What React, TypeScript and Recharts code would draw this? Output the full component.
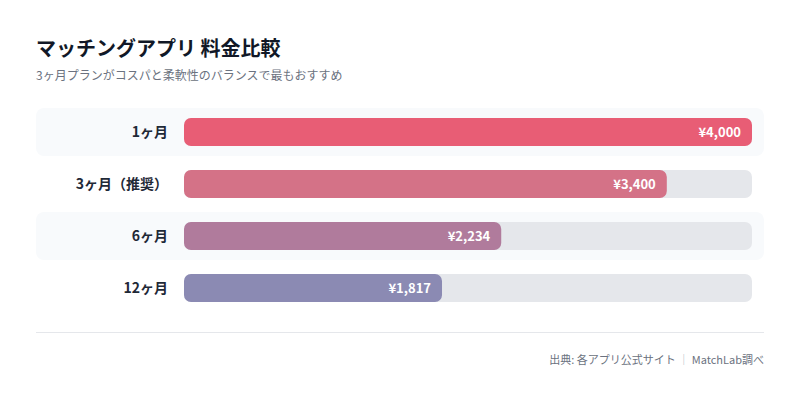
import { Bar, BarChart, Cell, LabelList, XAxis, YAxis } from "recharts";

const plans = ["1ヶ月", "3ヶ月（推奨）", "6ヶ月", "12ヶ月"];
const prices = [4000, 3400, 2234, 1817];
const barColors = ["#e85d75", "#d47287", "#b07b9c", "#8b8ab3"];
const priceMax = 4000;

const INK = "#1f2937";
const INK_MUTED = "#6b7280";
const TRACK = "#e5e7eb";
const ROW_BAND = "#f8fafc";
const FONT = '"Noto Sans CJK JP", "Noto Sans", sans-serif';

const data = plans.map((plan, i) => ({ plan, price: prices[i] }));

const yen = (v: number) => "¥" + v.toLocaleString("en-US");

// fond de ligne alterné + piste grise, à partir du rectangle de fond de la barre
function RowBackground(props: any) {
  const { x, y, width, height, index } = props;
  return (
    <g>
      {index % 2 === 0 && (
        <rect x={x - 148} y={y - 10} width={width + 160} height={height + 20} rx={8} fill={ROW_BAND} />
      )}
      <rect x={x} y={y} width={width} height={height} rx={7} fill={TRACK} />
    </g>
  );
}

export default function App() {
  return (
    <div style={{ position: "relative", width: 800, height: 401, background: "#fff", fontFamily: FONT }}>
      <style>{`body{margin:0}`}</style>
      <div style={{ position: "absolute", left: 36, top: 33, fontSize: 20, fontWeight: 700, color: "#111827" }}>
        マッチングアプリ 料金比較
      </div>
      <div style={{ position: "absolute", left: 36, top: 66, fontSize: 12, color: INK_MUTED }}>
        3ヶ月プランがコスパと柔軟性のバランスで最もおすすめ
      </div>

      <div style={{ position: "absolute", left: 0, top: 0 }}>
        <BarChart
          width={800}
          height={401}
          data={data}
          layout="vertical"
          margin={{ top: 106, right: 48, bottom: 87, left: 36 }}
        >
          <XAxis type="number" domain={[0, priceMax]} hide />
          <YAxis
            type="category"
            dataKey="plan"
            width={148}
            axisLine={false}
            tickLine={false}
            tickSize={0}
            tickMargin={16}
            tick={{ fill: INK, fontSize: 14, fontWeight: 700, fontFamily: FONT }}
          />
          <Bar
            dataKey="price"
            barSize={28}
            radius={7}
            background={<RowBackground />}
            isAnimationActive={false}
          >
            {data.map((d, i) => (
              <Cell key={d.plan} fill={barColors[i]} />
            ))}
            <LabelList
              dataKey="price"
              position="insideRight"
              offset={11}
              formatter={(v: any) => yen(Number(v))}
              style={{ fill: "#fff", fontSize: 13, fontWeight: 700, fontFamily: FONT }}
            />
          </Bar>
        </BarChart>
      </div>

      <div style={{ position: "absolute", left: 36, top: 332, width: 728, height: 1, background: TRACK }} />
      <div
        style={{
          position: "absolute",
          right: 36,
          top: 351,
          fontSize: 11,
          color: INK_MUTED,
          whiteSpace: "nowrap",
        }}
      >
        出典: 各アプリ公式サイト <span style={{ color: "#b0b5bd" }}>｜</span> MatchLab調べ
      </div>
    </div>
  );
}
